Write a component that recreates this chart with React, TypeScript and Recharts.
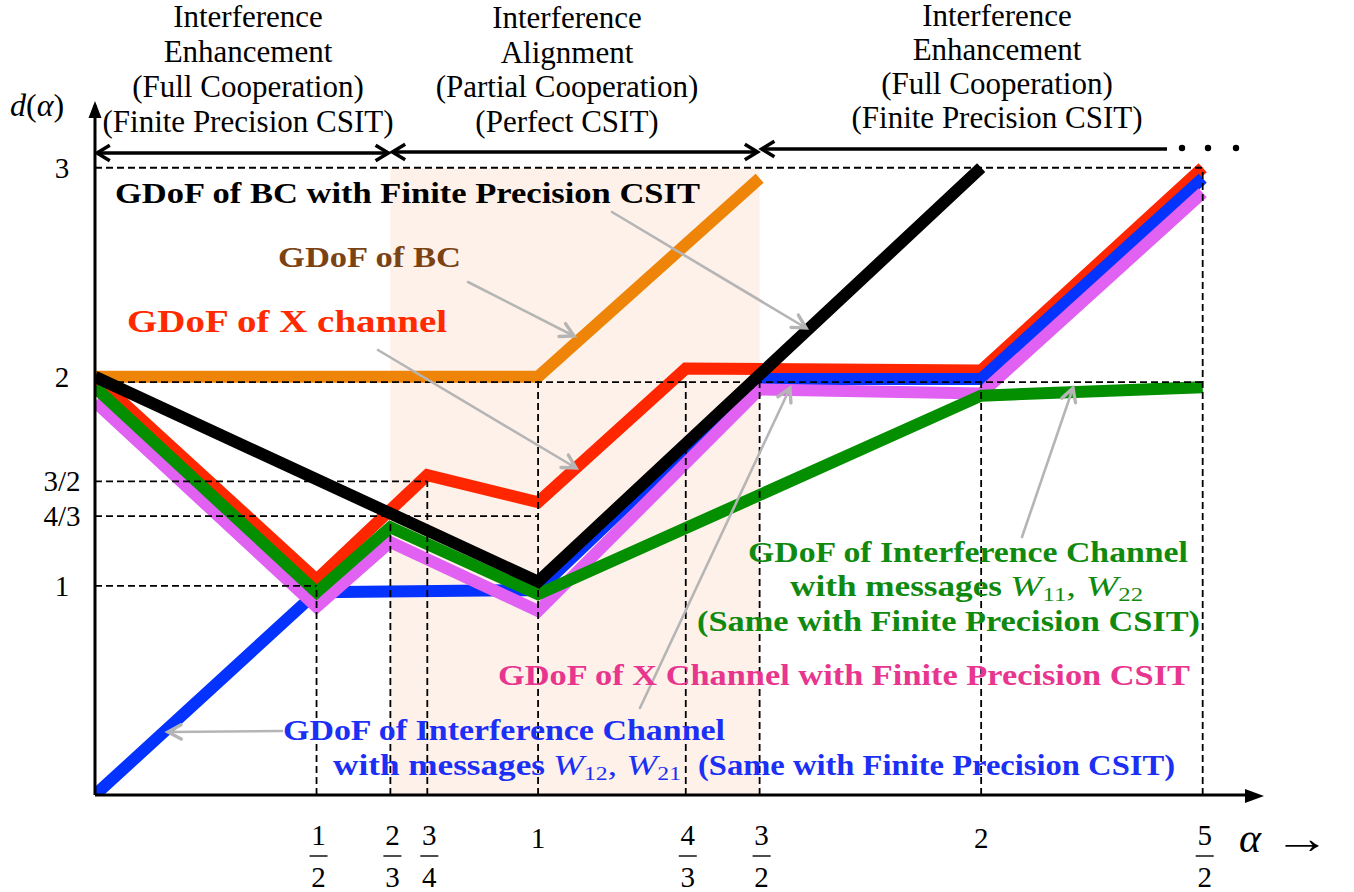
import React from "react"
import { LineChart, Line, XAxis, YAxis, ReferenceLine, ReferenceArea } from "recharts"

// ---- layout ----
const W = 1354
const H = 892
const MARGIN = { top: 105, right: 107, bottom: 37, left: 0 }
const Y_AXIS_W = 95
const X_AXIS_H = 60
const X_MAX = 2.6
const Y_MAX = 3.3
const SERIF = "'Liberation Serif', 'Times New Roman', serif"

// ---- data (alpha, d(alpha)) ----
const bcX = [0, 1, 1.5]
const bcY = [2, 2, 2.95]

const xChX = [0, 0.5, 0.75, 1, 4 / 3, 2, 2.5]
const xChY = [2, 1.03, 1.53, 1.4, 2.04, 2.03, 3]

const icDirectX = [0, 0.5, 2 / 3, 1, 2, 2.5]
const icDirectY = [1.95, 0.97, 1.28, 0.96, 1.91, 1.95]

const bcFiniteX = [0, 1, 2]
const bcFiniteY = [2, 1.02, 3]

const icCrossX = [0, 0.5, 1, 1.5, 2, 2.5]
const icCrossY = [0, 0.97, 0.98, 1.99, 1.99, 2.95]

const xFiniteX = [0, 0.5, 2 / 3, 1, 1.5, 2, 2.5]
const xFiniteY = [1.88, 0.9, 1.21, 0.88, 1.94, 1.92, 2.88]

// ---- ticks ----
const xTickVals = [1 / 2, 2 / 3, 3 / 4, 1, 4 / 3, 3 / 2, 2, 5 / 2]
const xTickLabels = ["1/2", "2/3", "3/4", "1", "4/3", "3/2", "2", "5/2"]
const yTickVals = [1, 4 / 3, 3 / 2, 2, 3]
const yTickLabels = ["1", "4/3", "3/2", "2", "3"]

// dashed guides: horizontal [y, xEnd], vertical [x, yEnd]
const hGuides = [
  [3, 2.5],
  [1.975, 2.5],
  [1.5, 0.75],
  [4 / 3, 1],
  [1, 0.5],
]
const vGuides = [
  [0.5, 1],
  [2 / 3, 1.3],
  [0.75, 1.5],
  [1, 1.98],
  [4 / 3, 1.98],
  [1.5, 1.98],
  [2, 1.98],
  [2.5, 3],
]

const pts = (xs: number[], ys: number[]) => xs.map((x, i) => ({ x, y: ys[i] }))

const series = [
  { name: "bc", data: pts(bcX, bcY), color: "#ee8408" },
  { name: "x", data: pts(xChX, xChY), color: "#ff2600" },
  { name: "icCross", data: pts(icCrossX, icCrossY), color: "#0433ff" },
  { name: "xFinite", data: pts(xFiniteX, xFiniteY), color: "#e061f2" },
  { name: "icDirect", data: pts(icDirectX, icDirectY), color: "#048f00" },
  { name: "bcFinite", data: pts(bcFiniteX, bcFiniteY), color: "#000000" },
]

// pixel helpers for the annotation layer (same geometry as the chart)
const PL = Y_AXIS_W + MARGIN.left
const PR = W - MARGIN.right
const PB = H - MARGIN.bottom - X_AXIS_H
const sx = (v: number) => PL + (v / X_MAX) * (PR - PL)

const XTick = (props: any) => {
  const { x, payload } = props
  const i = xTickVals.findIndex((v) => Math.abs(v - payload.value) < 1e-6)
  const lab = xTickLabels[i] ?? ""
  const [num, den] = lab.split("/")
  if (!den)
    return (
      <text x={x} y={848} textAnchor="middle" fontSize={29} fontFamily={SERIF} fill="#000">
        {num}
      </text>
    )
  return (
    <g>
      <text x={x + 2} y={845} textAnchor="middle" fontSize={29} fontFamily={SERIF} fill="#000">
        {num}
      </text>
      <line x1={x - 7} x2={x + 11} y1={856} y2={856} stroke="#000" strokeWidth={1.4} />
      <text x={x + 2} y={887} textAnchor="middle" fontSize={29} fontFamily={SERIF} fill="#000">
        {den}
      </text>
    </g>
  )
}

const YTick = (props: any) => {
  const { y, payload } = props
  const i = yTickVals.findIndex((v) => Math.abs(v - payload.value) < 1e-6)
  return (
    <text x={62} y={y + 10} textAnchor="middle" fontSize={29} fontFamily={SERIF} fill="#000">
      {yTickLabels[i]}
    </text>
  )
}

function chevron(tx: number, ty: number, dx: number, dy: number, len: number, ang: number) {
  const a = Math.atan2(dy, dx)
  const p1 = [tx - len * Math.cos(a - ang), ty - len * Math.sin(a - ang)]
  const p2 = [tx - len * Math.cos(a + ang), ty - len * Math.sin(a + ang)]
  return `M${p1[0]},${p1[1]} L${tx},${ty} L${p2[0]},${p2[1]}`
}

const topBlocks = [
  { cx: 248, base: [27, 62, 97, 132], lines: ["Interference", "Enhancement", "(Full Cooperation)", "(Finite Precision CSIT)"] },
  { cx: 567, base: [28, 63, 97, 132], lines: ["Interference", "Alignment", "(Partial Cooperation)", "(Perfect CSIT)"] },
  { cx: 997, base: [26, 60, 94, 128], lines: ["Interference", "Enhancement", "(Full Cooperation)", "(Finite Precision CSIT)"] },
]

const grayArrows = [
  [612, 212, 806, 328],
  [468, 282, 574, 336],
  [378, 350, 576, 468],
  [1022, 537, 1073, 388],
  [640, 708, 790, 388],
  [282, 731, 168, 732],
]

const labels = [
  { t: "GDoF of BC with Finite Precision CSIT", x: 115, y: 203, len: 585, c: "#000000", fs: 30 },
  { t: "GDoF of BC", x: 278, y: 267, len: 183, c: "#7b4214", fs: 30 },
  { t: "GDoF of X channel", x: 127, y: 332, len: 320, c: "#ff2a00", fs: 32 },
  { t: "GDoF of Interference Channel", x: 748, y: 562, len: 440, c: "#0f8a0f", fs: 30 },
  { t: "with messages", x: 790, y: 596, len: 212, c: "#0f8a0f", fs: 30 },
  { t: "(Same with Finite Precision CSIT)", x: 697, y: 631, len: 503, c: "#0f8a0f", fs: 30 },
  { t: "GDoF of X Channel with Finite Precision CSIT", x: 498, y: 685, len: 692, c: "#e8368f", fs: 30 },
  { t: "GDoF of Interference Channel", x: 283, y: 740, len: 442, c: "#1c2ff5", fs: 30 },
  { t: "with messages", x: 333, y: 775, len: 212, c: "#1c2ff5", fs: 30 },
  { t: "(Same with Finite Precision CSIT)", x: 698, y: 775, len: 477, c: "#1c2ff5", fs: 30 },
]

const MathW = ({ x, y, a, b, c, len }: { x: number; y: number; a: string; b: string; c: string; len: number }) => (
  <text x={x} y={y} fontFamily={SERIF} fontSize={30} fill={c} textLength={len} lengthAdjust="spacingAndGlyphs">
    <tspan fontStyle="italic">W</tspan>
    <tspan fontSize={19} dy={5}>{a}</tspan>
    <tspan dy={-5}>, </tspan>
    <tspan fontStyle="italic">W</tspan>
    <tspan fontSize={19} dy={5}>{b}</tspan>
  </text>
)

const Overlay = () => {
  const segs = [
    { x1: sx(0), x2: sx(2 / 3), y: 153, l: true, r: true },
    { x1: sx(2 / 3), x2: sx(1.5), y: 152, l: true, r: true },
    { x1: sx(1.5), x2: 1167, y: 149, l: true, r: false },
  ]
  return (
    <svg width={W} height={H} style={{ position: "absolute", left: 0, top: 0, pointerEvents: "none" }}>
      {/* axis arrow heads */}
      <polygon points={`${PL},101 ${PL - 6.5},118 ${PL + 6.5},118`} fill="#000" />
      <polygon points={`1264,${PB + 1} 1245,${PB - 6} 1245,${PB + 8}`} fill="#000" />

      {/* regime arrows */}
      {segs.map((s, i) => (
        <g key={i} stroke="#000" strokeWidth={3.5} fill="none">
          <line x1={s.x1 + 2} x2={s.x2 - (s.r ? 2 : 0)} y1={s.y} y2={s.y} />
          {s.l && <path d={chevron(s.x1 + 2, s.y, -1, 0, 15, 0.55)} />}
          {s.r && <path d={chevron(s.x2 - 2, s.y, 1, 0, 15, 0.55)} />}
        </g>
      ))}
      {[1182, 1208, 1236].map((x) => (
        <circle key={x} cx={x} cy={148} r={3.2} fill="#000" />
      ))}

      {topBlocks.map((b, i) => (
        <g key={i}>
          {b.lines.map((t, j) => (
            <text key={j} x={b.cx} y={b.base[j]} textAnchor="middle" fontFamily={SERIF} fontSize={31} fill="#000">
              {t}
            </text>
          ))}
        </g>
      ))}

      <text x={10} y={116} fontFamily={SERIF} fontSize={32} fill="#000">
        <tspan fontStyle="italic">d</tspan>(<tspan fontStyle="italic">α</tspan>)
      </text>
      <text x={1239} y={852} fontFamily={SERIF} fontSize={42} fontStyle="italic" fill="#000">
        α
      </text>
      <text x={1274} y={853} fontFamily={SERIF} fontSize={44} fill="#000" textLength={56} lengthAdjust="spacingAndGlyphs">
        →
      </text>

      {grayArrows.map(([x1, y1, x2, y2], i) => (
        <g key={i} stroke="#b5b5b5" strokeWidth={2.6} fill="none" strokeLinecap="round">
          <line x1={x1} y1={y1} x2={x2} y2={y2} />
          <path d={chevron(x2, y2, x2 - x1, y2 - y1, 15, 0.5)} strokeWidth={3.4} />
        </g>
      ))}

      {labels.map((l, i) => (
        <text
          key={i}
          x={l.x}
          y={l.y}
          fontFamily={SERIF}
          fontWeight="bold"
          fontSize={l.fs}
          fill={l.c}
          textLength={l.len}
          lengthAdjust="spacingAndGlyphs"
        >
          {l.t}
        </text>
      ))}
      <MathW x={1010} y={596} a="11" b="22" c="#0f8a0f" len={133} />
      <MathW x={553} y={775} a="12" b="21" c="#1c2ff5" len={128} />
    </svg>
  )
}

export default function App() {
  return (
    <div style={{ position: "absolute", left: 0, top: 0, width: W, height: H, background: "#fff" }}>
      <LineChart width={W} height={H} margin={MARGIN}>
        <ReferenceArea x1={2 / 3} x2={1.5} y1={0} y2={3} fill="#fdf1e9" fillOpacity={1} stroke="none" />
        <XAxis
          type="number"
          dataKey="x"
          domain={[0, X_MAX]}
          ticks={xTickVals}
          interval={0}
          height={X_AXIS_H}
          axisLine={{ stroke: "#000", strokeWidth: 3 }}
          tickLine={false}
          tick={(p: any) => <XTick {...p} />}
          allowDataOverflow
        />
        <YAxis
          type="number"
          dataKey="y"
          domain={[0, Y_MAX]}
          ticks={yTickVals}
          interval={0}
          width={Y_AXIS_W}
          axisLine={{ stroke: "#000", strokeWidth: 3 }}
          tickLine={false}
          tick={(p: any) => <YTick {...p} />}
          allowDataOverflow
        />
        {series.map((s) => (
          <Line
            key={s.name}
            data={s.data}
            dataKey="y"
            type="linear"
            stroke={s.color}
            strokeWidth={12}
            dot={false}
            activeDot={false}
            isAnimationActive={false}
          />
        ))}
        {hGuides.map(([y, xe], i) => (
          <ReferenceLine
            key={"h" + i}
            segment={[{ x: 0, y }, { x: xe, y }]}
            stroke="#000"
            strokeWidth={1.8}
            strokeDasharray="7 4"
          />
        ))}
        {vGuides.map(([x, ye], i) => (
          <ReferenceLine
            key={"v" + i}
            segment={[{ x, y: 0 }, { x, y: ye }]}
            stroke="#000"
            strokeWidth={1.8}
            strokeDasharray="7 4"
          />
        ))}
      </LineChart>
      <Overlay />
    </div>
  )
}
